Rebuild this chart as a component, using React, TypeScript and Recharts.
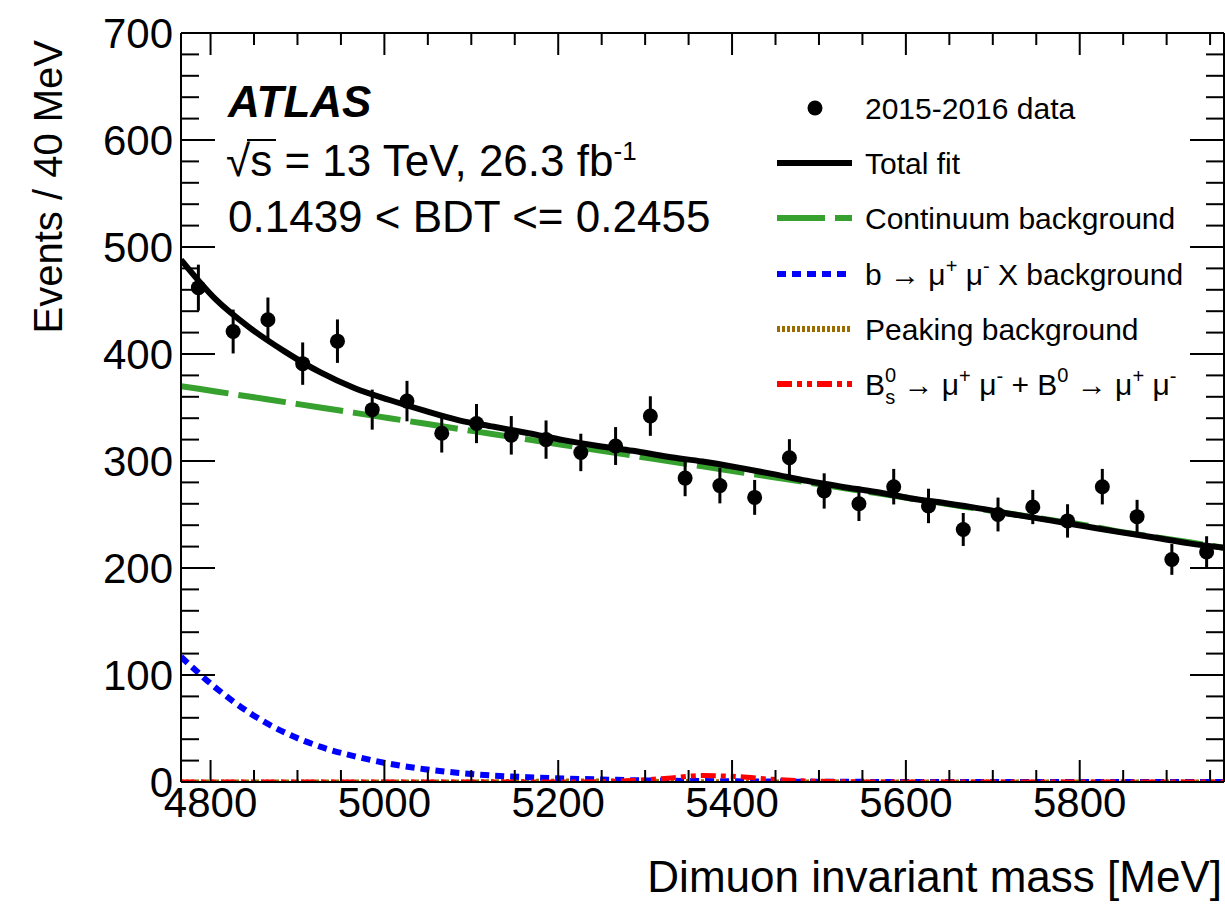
import React from 'react';
import { ComposedChart, Line, Scatter, XAxis, YAxis, ErrorBar } from 'recharts';

// ---- fit curves sampled at bin edges (MeV) ----
const massEdges = [4766, 4806, 4846, 4886, 4926, 4966, 5006, 5046, 5086, 5126, 5166, 5206, 5246, 5286, 5326, 5366, 5406, 5446, 5486, 5526, 5566, 5606, 5646, 5686, 5726, 5766, 5806, 5846, 5886, 5926, 5966];
const totalFit = [488, 451, 424, 402, 383, 368, 357, 347, 338, 332, 326, 319.5, 314, 309.5, 304, 299.5, 294, 288, 281.5, 276, 271, 265, 260.5, 255.5, 249.8, 244.5, 239, 233.5, 228.5, 223, 219];
const continuum = [370, 365, 360, 355, 350, 345, 340, 335, 330, 325, 320, 315, 310, 305, 300, 295, 290, 285, 280, 275, 270, 265, 260, 255, 250, 245, 240, 234, 229, 224, 219];
const bToMuMuX = [117, 88, 64, 46, 33, 24, 17, 12, 8.5, 6, 4.5, 3.3, 2.4, 1.7, 1.2, 0.9, 0.6, 0.4, 0.3, 0.2, 0.1, 0.1, 0, 0, 0, 0, 0, 0, 0, 0, 0];
const peakingBkg = [0, 0, 0, 0, 0, 0, 0, 0, 0, 0.3, 0.6, 0.9, 1.0, 0.8, 0.5, 0.3, 0, 0, 0, 0, 0, 0, 0, 0, 0, 0, 0, 0, 0, 0, 0];
const signalBsBd = [0, 0, 0, 0, 0, 0, 0, 0, 0, 0, 0, 0, 0.3, 1.5, 3.5, 6, 5, 2.5, 1, 0.3, 0, 0, 0, 0, 0, 0, 0, 0, 0, 0, 0];

// ---- data points ----
const binCenters = [4786, 4826, 4866, 4906, 4946, 4986, 5026, 5066, 5106, 5146, 5186, 5226, 5266, 5306, 5346, 5386, 5426, 5466, 5506, 5546, 5586, 5626, 5666, 5706, 5746, 5786, 5826, 5866, 5906, 5946];
const counts = [462, 421, 432, 391, 412, 348, 356, 326, 335, 324, 320, 308, 314, 342, 284, 277, 266, 303, 272, 260, 276, 258, 236, 250, 257, 244, 276, 248, 208, 215];
const countErrors = [21.5, 20.5, 20.8, 19.8, 20.3, 18.7, 18.9, 18.1, 18.3, 18.0, 17.9, 17.5, 17.7, 18.5, 16.9, 16.6, 16.3, 17.4, 16.5, 16.1, 16.6, 16.1, 15.4, 15.8, 16.0, 15.6, 16.6, 15.7, 14.4, 14.7];

// ---- axes ----
const xDomain = [4766, 5966];
const yDomain = [0, 700];
const xTicks = [4800, 4850, 4900, 4950, 5000, 5050, 5100, 5150, 5200, 5250, 5300, 5350, 5400, 5450, 5500, 5550, 5600, 5650, 5700, 5750, 5800, 5850, 5900, 5950];
const xLabelTicks = [4800, 5000, 5200, 5400, 5600, 5800];
const yTicks = [0, 20, 40, 60, 80, 100, 120, 140, 160, 180, 200, 220, 240, 260, 280, 300, 320, 340, 360, 380, 400, 420, 440, 460, 480, 500, 520, 540, 560, 580, 600, 620, 640, 660, 680, 700];
const yLabelTicks = [0, 100, 200, 300, 400, 500, 600, 700];

const FONT = '"Liberation Sans", Arial, Helvetica, sans-serif';

const curveRows = massEdges.map((m, i) => ({
  m,
  total: totalFit[i],
  cont: continuum[i],
  bx: bToMuMuX[i],
  peak: peakingBkg[i],
  sig: signalBsBd[i],
}));

const pointRows = binCenters.map((m, i) => ({ m, n: counts[i], err: countErrors[i] }));

// plot frame (pixels): left 181, right 1224, top 33, bottom 782
const BottomTick = (props: any) => {
  const { x, y, payload } = props;
  const v = payload.value;
  const major = xLabelTicks.includes(v);
  return (
    <g>
      <line x1={x} x2={x} y1={y} y2={y - (major ? 22 : 12)} stroke="#000" strokeWidth={2} />
      {major && (
        <text x={x} y={y + 35} textAnchor="middle" fontSize={42} fontFamily={FONT} fill="#000">
          {v}
        </text>
      )}
    </g>
  );
};

const TopTick = (props: any) => {
  const { x, y, payload } = props;
  const major = xLabelTicks.includes(payload.value);
  return <line x1={x} x2={x} y1={y} y2={y + (major ? 22 : 12)} stroke="#000" strokeWidth={2} />;
};

const LeftTick = (props: any) => {
  const { x, y, payload } = props;
  const v = payload.value;
  const major = yLabelTicks.includes(v);
  return (
    <g>
      <line x1={x} x2={x + (major ? 34 : 18)} y1={y} y2={y} stroke="#000" strokeWidth={2} />
      {major && (
        <text x={x - 8} y={y} dy="0.36em" textAnchor="end" fontSize={42} fontFamily={FONT} fill="#000">
          {v}
        </text>
      )}
    </g>
  );
};

const RightTick = (props: any) => {
  const { x, y, payload } = props;
  const major = yLabelTicks.includes(payload.value);
  return <line x1={x} x2={x - (major ? 34 : 18)} y1={y} y2={y} stroke="#000" strokeWidth={2} />;
};

const DataDot = (props: any) => {
  const { cx, cy } = props;
  if (cx == null || cy == null) return null;
  return <circle cx={cx} cy={cy} r={7.5} fill="#000" />;
};

const C_GREEN = '#36a12e';
const C_BLUE = '#0000ff';
const C_BROWN = '#9c6b00';
const C_RED = '#ff0000';

const legendX0 = 777;
const legendX1 = 852;
const legendTextX = 865;
const legendRows = [108, 163, 218, 274, 329, 384];

export default function App() {
  return (
    <div style={{ position: 'relative', width: 1225, height: 905, background: '#fff' }}>
      <style>{`body{margin:0;background:#fff}`}</style>
      <ComposedChart
        width={1225}
        height={905}
        data={curveRows}
        margin={{ top: 23, right: 0, bottom: 63, left: 81 }}
      >
        <XAxis
          dataKey="m"
          type="number"
          domain={xDomain}
          ticks={xTicks}
          interval={0}
          allowDataOverflow
          height={60}
          tickSize={0}
          tickMargin={0}
          tickLine={false}
          tick={<BottomTick />}
          axisLine={{ stroke: '#000', strokeWidth: 2 }}
        />
        <XAxis
          xAxisId="top"
          orientation="top"
          dataKey="m"
          type="number"
          domain={xDomain}
          ticks={xTicks}
          interval={0}
          allowDataOverflow
          height={10}
          tickSize={0}
          tickMargin={0}
          tickLine={false}
          tick={<TopTick />}
          axisLine={{ stroke: '#000', strokeWidth: 2 }}
        />
        <YAxis
          type="number"
          domain={yDomain}
          ticks={yTicks}
          interval={0}
          allowDataOverflow
          width={100}
          tickSize={0}
          tickMargin={0}
          tickLine={false}
          tick={<LeftTick />}
          axisLine={{ stroke: '#000', strokeWidth: 2 }}
        />
        <YAxis
          yAxisId="right"
          orientation="right"
          type="number"
          domain={yDomain}
          ticks={yTicks}
          interval={0}
          allowDataOverflow
          width={1}
          tickSize={0}
          tickMargin={0}
          tickLine={false}
          tick={<RightTick />}
          axisLine={{ stroke: '#000', strokeWidth: 2 }}
        />
        <Line dataKey="cont" type="monotone" stroke={C_GREEN} strokeWidth={6} strokeDasharray="48 10" dot={false} isAnimationActive={false} />
        <Line dataKey="peak" type="monotone" stroke={C_BROWN} strokeWidth={5} strokeDasharray="3 2" dot={false} isAnimationActive={false} />
        <Line dataKey="bx" type="monotone" stroke={C_BLUE} strokeWidth={6} strokeDasharray="9 6" dot={false} isAnimationActive={false} />
        <Line dataKey="sig" type="monotone" stroke={C_RED} strokeWidth={5} strokeDasharray="15 5 5 5 5 5" dot={false} isAnimationActive={false} />
        <Line dataKey="total" type="monotone" stroke="#000" strokeWidth={6} dot={false} isAnimationActive={false} />
        <Scatter data={pointRows} dataKey="n" shape={<DataDot />} isAnimationActive={false}>
          <ErrorBar dataKey="err" direction="y" width={0} stroke="#000" strokeWidth={3} isAnimationActive={false} />
        </Scatter>
      </ComposedChart>

      <svg
        width={1225}
        height={905}
        style={{ position: 'absolute', left: 0, top: 0, pointerEvents: 'none' }}
        fontFamily={FONT}
      >
        {/* axis titles */}
        <text
          x={48}
          y={40}
          transform="rotate(-90 48 40)"
          textAnchor="end"
          dy="0.36em"
          fontSize={40}
          fill="#000"
        >
          Events / 40 MeV
        </text>
        <text x={1222} y={892} textAnchor="end" fontSize={44} fill="#000">
          Dimuon invariant mass [MeV]
        </text>

        {/* ATLAS labels */}
        <text x={228} y={117} fontSize={44} fontWeight="bold" fontStyle="italic" fill="#000">
          ATLAS
        </text>
        <text x={226} y={176} fontSize={44} fill="#000">
          √<tspan>s = 13 TeV, 26.3 fb</tspan>
          <tspan dy={-16} fontSize={26}>-1</tspan>
        </text>
        <line x1={247} x2={276} y1={140} y2={140} stroke="#000" strokeWidth={2} />
        <text x={228} y={232} fontSize={44} fill="#000">
          0.1439 &lt; BDT &lt;= 0.2455
        </text>

        {/* legend */}
        <circle cx={815} cy={legendRows[0]} r={7.5} fill="#000" />
        <line x1={legendX0} x2={legendX1} y1={legendRows[1]} y2={legendRows[1]} stroke="#000" strokeWidth={6} />
        <line x1={legendX0} x2={legendX1} y1={legendRows[2]} y2={legendRows[2]} stroke={C_GREEN} strokeWidth={6} strokeDasharray="48 10" />
        <line x1={legendX0} x2={legendX1} y1={legendRows[3]} y2={legendRows[3]} stroke={C_BLUE} strokeWidth={6} strokeDasharray="9 6" />
        <line x1={legendX0} x2={legendX1} y1={legendRows[4]} y2={legendRows[4]} stroke={C_BROWN} strokeWidth={6} strokeDasharray="3 2" />
        <line x1={legendX0} x2={legendX1} y1={legendRows[5]} y2={legendRows[5]} stroke={C_RED} strokeWidth={6} strokeDasharray="15 5 5 5 5 5" />

        <g fontSize={30} fill="#000">
          <text x={legendTextX} y={legendRows[0]} dy="0.36em">2015-2016 data</text>
          <text x={legendTextX} y={legendRows[1]} dy="0.36em">Total fit</text>
          <text x={legendTextX} y={legendRows[2]} dy="0.36em">Continuum background</text>
          <text x={legendTextX} y={legendRows[3] + 11}>
            b → μ<tspan dy={-12} fontSize={20}>+</tspan>
            <tspan dy={12}> μ</tspan>
            <tspan dy={-12} fontSize={20}>-</tspan>
            <tspan dy={12}> X background</tspan>
          </text>
          <text x={legendTextX} y={legendRows[4]} dy="0.36em">Peaking background</text>
          <text x={legendTextX} y={legendRows[5] + 11}>
            B<tspan dy={-13} fontSize={20}>0</tspan>
            <tspan dx={-11} dy={22} fontSize={20}>s</tspan>
            <tspan dy={-9}> → μ</tspan>
            <tspan dy={-12} fontSize={20}>+</tspan>
            <tspan dy={12}> μ</tspan>
            <tspan dy={-12} fontSize={20}>-</tspan>
            <tspan dy={12}> + B</tspan>
            <tspan dy={-13} fontSize={20}>0</tspan>
            <tspan dy={13}> → μ</tspan>
            <tspan dy={-12} fontSize={20}>+</tspan>
            <tspan dy={12}> μ</tspan>
            <tspan dy={-12} fontSize={20}>-</tspan>
          </text>
        </g>
      </svg>
    </div>
  );
}
